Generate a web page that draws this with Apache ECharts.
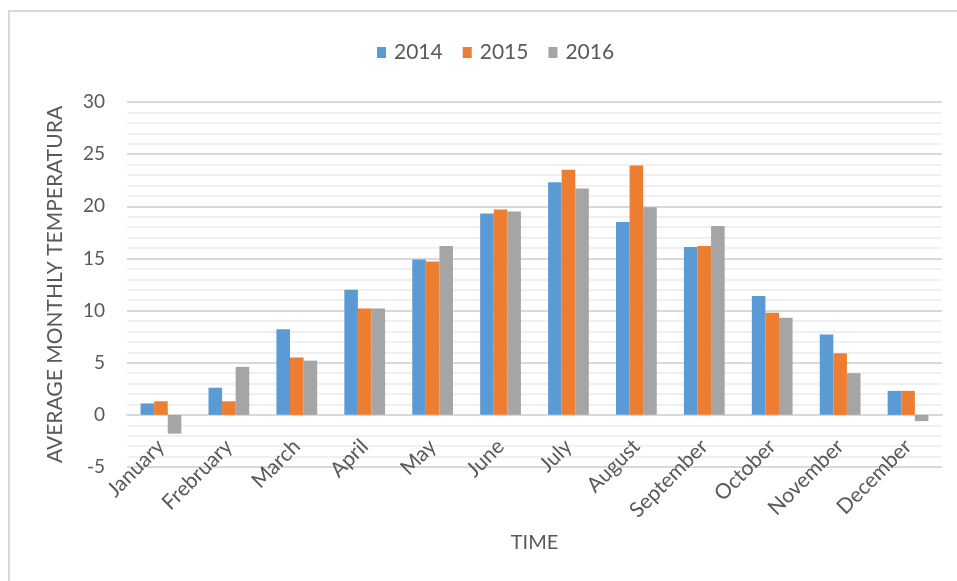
<!DOCTYPE html>
<html>
<head>
<meta charset="UTF-8">
<title>Average monthly temperature</title>
<script src="https://cdn.jsdelivr.net/npm/echarts@6/dist/echarts.min.js"></script>
<style>
  html, body { margin: 0; padding: 0; background: #fff; }
  #main { width: 957px; height: 581px; }
</style>
</head>
<body>
<div id="main"></div>
<script>
var months = ['January', 'Frebruary', 'March', 'April', 'May', 'June', 'July',
  'August', 'September', 'October', 'November', 'December'];
var years = ['2014', '2015', '2016'];
var t2014 = [1.1, 2.6, 8.2, 12.0, 14.9, 19.3, 22.3, 18.5, 16.1, 11.4, 7.7, 2.3];
var t2015 = [1.3, 1.3, 5.5, 10.2, 14.7, 19.7, 23.5, 23.9, 16.2, 9.8, 5.9, 2.3];
var t2016 = [-1.8, 4.6, 5.2, 10.2, 16.2, 19.5, 21.7, 19.9, 18.1, 9.3, 4.0, -0.6];
var colors = ['#5b9bd5', '#ed7d31', '#a5a5a5'];

var font = 'Lato, "Open Sans", sans-serif';
var textColor = '#595959';

function bar(name, values) {
  return {
    name: name,
    type: 'bar',
    data: values,
    barGap: '0%',
    barCategoryGap: '40%'
  };
}

var chart = echarts.init(document.getElementById('main'));
chart.setOption({
  animation: false,
  color: colors,
  textStyle: { fontFamily: font },
  graphic: [{
    type: 'rect',
    shape: { x: 9, y: 11, width: 1000, height: 620 },
    style: { fill: 'none', stroke: '#d9d9d9', lineWidth: 2 },
    silent: true
  }],
  legend: {
    top: 37,
    left: 372,
    itemWidth: 9,
    itemHeight: 11,
    itemGap: 20,
    icon: 'rect',
    textStyle: { fontSize: 21, color: textColor, fontFamily: font, padding: [0, 0, 0, 3] }
  },
  grid: {
    left: 127, right: 15, top: 102, bottom: 114,
    containLabel: false,
    outerBoundsMode: 'none'
  },
  xAxis: {
    type: 'category',
    data: months,
    // category axis sits at the value 0 line (5 units above the bottom)
    offset: -52,
    name: 'TIME',
    nameLocation: 'middle',
    nameGap: 118,
    nameTextStyle: { fontSize: 20, color: textColor, fontFamily: font },
    axisLine: { show: true, lineStyle: { color: '#d9d9d9', width: 2 } },
    axisTick: { show: false },
    axisLabel: {
      rotate: 45,
      margin: 28,
      fontSize: 21,
      color: textColor,
      fontFamily: font,
      interval: 0
    }
  },
  yAxis: {
    type: 'value',
    min: -5,
    max: 30,
    interval: 5,
    name: 'AVERAGE MONTHLY TEMPERATURA',
    nameLocation: 'middle',
    nameGap: 61,
    nameTextStyle: { fontSize: 21, color: textColor, fontFamily: font },
    axisLine: { show: false },
    axisTick: { show: false },
    axisLabel: { fontSize: 19, color: textColor, margin: 22, fontFamily: font },
    splitLine: { lineStyle: { color: '#d9d9d9', width: 2 } },
    minorTick: { show: false, splitNumber: 5 },
    minorSplitLine: { show: true, lineStyle: { color: '#f0f0f0', width: 2 } }
  },
  series: [
    bar(years[0], t2014),
    bar(years[1], t2015),
    bar(years[2], t2016)
  ]
});
</script>
</body>
</html>
